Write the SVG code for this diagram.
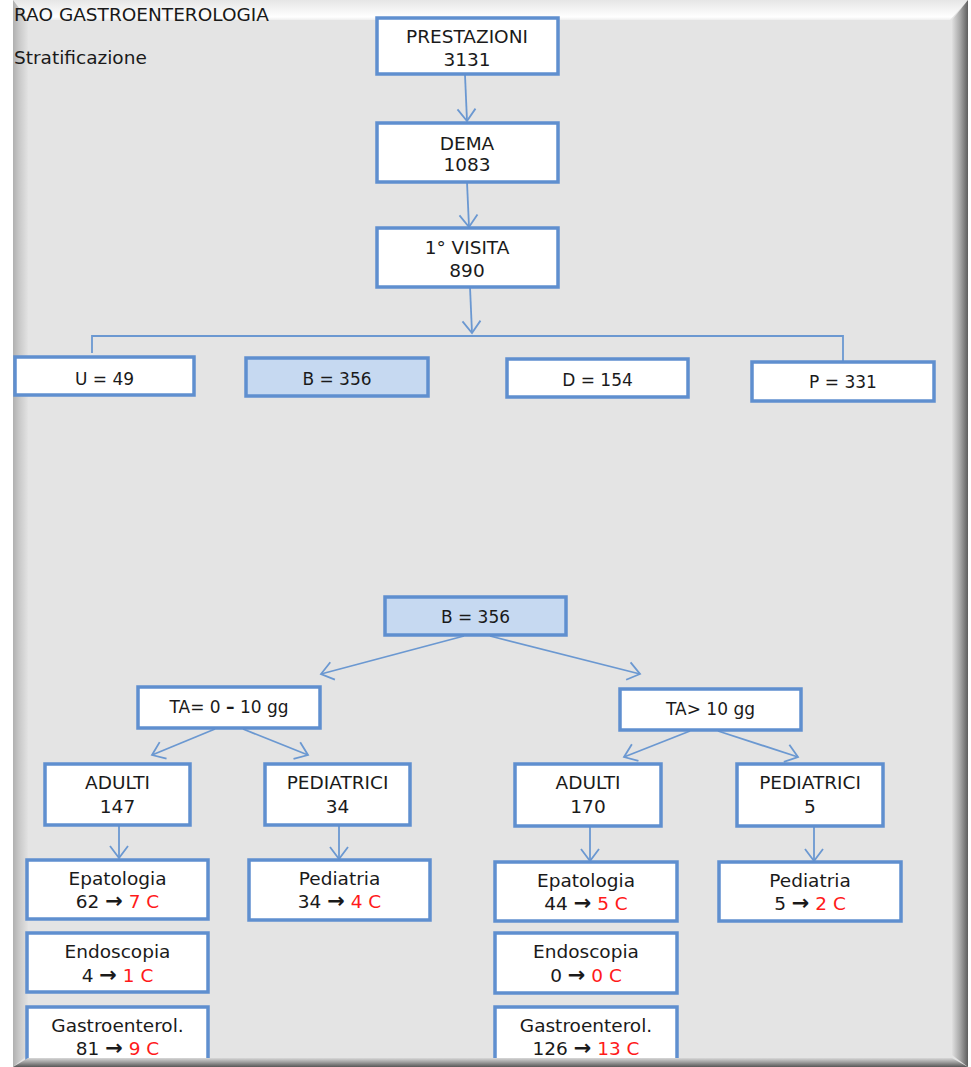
<svg xmlns="http://www.w3.org/2000/svg" width="971" height="1067" viewBox="0 0 971 1067">
<defs>
<linearGradient id="gTop" x1="0" y1="0" x2="0" y2="1">
<stop offset="0" stop-color="#e6e6e6"/><stop offset="0.55" stop-color="#f6f6f6"/><stop offset="0.85" stop-color="#ffffff"/><stop offset="1" stop-color="#eeeeee"/>
</linearGradient>
<linearGradient id="gLeft" x1="0" y1="0" x2="1" y2="0">
<stop offset="0" stop-color="#b0b0b0"/><stop offset="0.4" stop-color="#c8c8c8"/><stop offset="1" stop-color="#e2e2e2"/>
</linearGradient>
<linearGradient id="gRight" x1="0" y1="0" x2="1" y2="0">
<stop offset="0" stop-color="#e0e0e0"/><stop offset="0.5" stop-color="#a8a8a8"/><stop offset="1" stop-color="#5e5e5e"/>
</linearGradient>
<linearGradient id="gBottom" x1="0" y1="0" x2="0" y2="1">
<stop offset="0" stop-color="#d8d8d8"/><stop offset="0.5" stop-color="#9a9a9a"/><stop offset="1" stop-color="#585858"/>
</linearGradient>
<marker id="arr" markerUnits="userSpaceOnUse" markerWidth="16" markerHeight="22" viewBox="0 0 16 22" refX="14" refY="11" orient="auto">
<path d="M2,2 L14,11 L2,20" fill="none" stroke="#6b98d1" stroke-width="1.8"/>
</marker>
<style>
.box{fill:#ffffff;stroke:#5f8fcf;stroke-width:3.5}
.blue{fill:#c6d9f1}
.t{font-family:"DejaVu Sans",sans-serif;font-size:17px;fill:#1a1a1a;text-anchor:middle}
.t2{font-family:"DejaVu Sans",sans-serif;font-size:18.5px;fill:#1a1a1a;text-anchor:middle}
.hd{font-family:"DejaVu Sans",sans-serif;font-size:18.5px;fill:#1a1a1a}
.r{fill:#ff1a1a}
.ar{font-weight:bold}
.ar2{font-weight:bold;font-size:21px}
.c{fill:none;stroke:#6b98d1;stroke-width:1.8}
</style>
</defs>
<rect x="0" y="0" width="971" height="1067" fill="#ffffff"/>
<rect x="13" y="0" width="955" height="1067" fill="#e4e4e4"/>
<polygon points="13,0 968,0 950,20 28,20" fill="url(#gTop)"/>
<polygon points="13,0 28,20 28,1055 13,1067" fill="url(#gLeft)"/>
<polygon points="968,0 968,1067 952,1055 952,20" fill="url(#gRight)"/>

<text class="hd" x="14" y="21">RAO GASTROENTEROLOGIA</text>
<text class="hd" x="14" y="64">Stratificazione</text>

<g id="connectors">
<line class="c" x1="465" y1="75" x2="467" y2="121" marker-end="url(#arr)"/>
<line class="c" x1="467" y1="182" x2="469" y2="227" marker-end="url(#arr)"/>
<line class="c" x1="470" y1="287" x2="472" y2="333" marker-end="url(#arr)"/>
<polyline class="c" points="92,353 92,336 843,336 843,362"/>
<line class="c" x1="464" y1="636" x2="321" y2="674" marker-end="url(#arr)"/>
<line class="c" x1="490" y1="636" x2="640" y2="674" marker-end="url(#arr)"/>
<line class="c" x1="215" y1="729" x2="152" y2="755" marker-end="url(#arr)"/>
<line class="c" x1="243" y1="729" x2="308" y2="755" marker-end="url(#arr)"/>
<line class="c" x1="690" y1="731" x2="624" y2="757" marker-end="url(#arr)"/>
<line class="c" x1="718" y1="731" x2="798" y2="757" marker-end="url(#arr)"/>
<line class="c" x1="119" y1="825" x2="119" y2="858" marker-end="url(#arr)"/>
<line class="c" x1="339" y1="825" x2="339" y2="859" marker-end="url(#arr)"/>
<line class="c" x1="590" y1="826" x2="590" y2="861" marker-end="url(#arr)"/>
<line class="c" x1="814" y1="826" x2="814" y2="861" marker-end="url(#arr)"/>
</g>

<g id="n-prestazioni"><rect class="box" x="377" y="18" width="181" height="56"/><text class="t2" x="467" y="43">PRESTAZIONI</text><text class="t2" x="467" y="66">3131</text></g>
<g id="n-dema"><rect class="box" x="377" y="123" width="181" height="59"/><text class="t2" x="467" y="150">DEMA</text><text class="t2" x="467" y="171">1083</text></g>
<g id="n-visita"><rect class="box" x="377" y="228" width="181" height="59"/><text class="t2" x="467" y="254">1° VISITA</text><text class="t2" x="467" y="277">890</text></g>

<g id="n-u"><rect class="box" x="15" y="357" width="179" height="38"/><text class="t" x="104.5" y="385">U = 49</text></g>
<g id="n-b"><rect class="box blue" x="246" y="358" width="182" height="38"/><text class="t" x="337" y="385">B = 356</text></g>
<g id="n-d"><rect class="box" x="507" y="359" width="181" height="38"/><text class="t" x="597.5" y="386">D = 154</text></g>
<g id="n-p"><rect class="box" x="752" y="362" width="182" height="39"/><text class="t" x="843" y="388">P = 331</text></g>

<g id="n-b2"><rect class="box blue" x="385" y="597" width="181" height="38"/><text class="t" x="475.5" y="623">B = 356</text></g>
<g id="n-ta1"><rect class="box" x="138" y="687" width="182" height="41"/><text class="t" x="229" y="713">TA= 0 <tspan class="ar">–</tspan> 10 gg</text></g>
<g id="n-ta2"><rect class="box" x="620" y="689" width="181" height="41"/><text class="t" x="710.5" y="715">TA&gt; 10 gg</text></g>

<g id="n-adulti1"><rect class="box" x="45" y="764" width="145" height="61"/><text class="t2" x="117.5" y="789">ADULTI</text><text class="t2" x="117.5" y="813">147</text></g>
<g id="n-ped1"><rect class="box" x="265" y="764" width="145" height="61"/><text class="t2" x="337.5" y="789">PEDIATRICI</text><text class="t2" x="337.5" y="813">34</text></g>
<g id="n-adulti2"><rect class="box" x="515" y="764" width="146" height="62"/><text class="t2" x="588" y="789">ADULTI</text><text class="t2" x="588" y="813">170</text></g>
<g id="n-ped2"><rect class="box" x="737" y="764" width="146" height="62"/><text class="t2" x="810" y="789">PEDIATRICI</text><text class="t2" x="810" y="813">5</text></g>

<g id="n-epat1"><rect class="box" x="27" y="860" width="181" height="59"/><text class="t2" x="117.5" y="885">Epatologia</text><text class="t2" x="117.5" y="908">62 <tspan class="ar2">→</tspan> <tspan class="r">7 C</tspan></text></g>
<g id="n-pedia1"><rect class="box" x="249" y="860" width="181" height="60"/><text class="t2" x="339.5" y="885">Pediatria</text><text class="t2" x="339.5" y="908">34 <tspan class="ar2">→</tspan> <tspan class="r">4 C</tspan></text></g>
<g id="n-endo1"><rect class="box" x="27" y="933" width="181" height="59"/><text class="t2" x="117.5" y="958">Endoscopia</text><text class="t2" x="117.5" y="982">4 <tspan class="ar2">→</tspan> <tspan class="r">1 C</tspan></text></g>
<g id="n-gastro1"><rect class="box" x="27" y="1007" width="181" height="70"/><text class="t2" x="117.5" y="1032">Gastroenterol.</text><text class="t2" x="117.5" y="1055">81 <tspan class="ar2">→</tspan> <tspan class="r">9 C</tspan></text></g>

<g id="n-epat2"><rect class="box" x="495" y="862" width="182" height="59"/><text class="t2" x="586" y="887">Epatologia</text><text class="t2" x="586" y="910">44 <tspan class="ar2">→</tspan> <tspan class="r">5 C</tspan></text></g>
<g id="n-pedia2"><rect class="box" x="719" y="862" width="182" height="59"/><text class="t2" x="810" y="887">Pediatria</text><text class="t2" x="810" y="910">5 <tspan class="ar2">→</tspan> <tspan class="r">2 C</tspan></text></g>
<g id="n-endo2"><rect class="box" x="495" y="933" width="182" height="60"/><text class="t2" x="586" y="958">Endoscopia</text><text class="t2" x="586" y="982">0 <tspan class="ar2">→</tspan> <tspan class="r">0 C</tspan></text></g>
<g id="n-gastro2"><rect class="box" x="495" y="1007" width="182" height="70"/><text class="t2" x="586" y="1032">Gastroenterol.</text><text class="t2" x="586" y="1055">126 <tspan class="ar2">→</tspan> <tspan class="r">13 C</tspan></text></g>

<polygon points="13,1067 968,1067 952,1058 28,1058" fill="url(#gBottom)"/>
</svg>
